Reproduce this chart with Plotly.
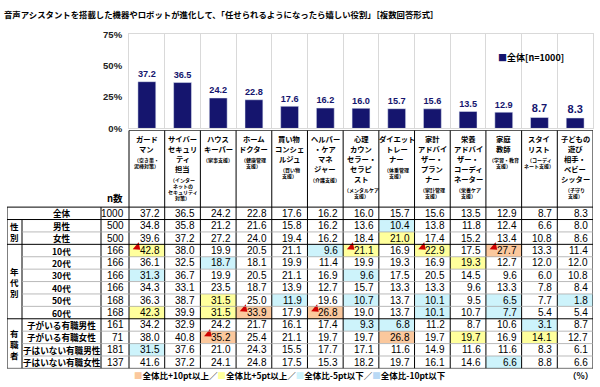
import plotly.graph_objects as go

# ---------------- data ----------------
cat_main = [
    ["ガード", "マン"],
    ["サイバー", "セキュリ", "ティ", "担当"],
    ["ハウス", "キーパー"],
    ["ホーム", "ドクター"],
    ["買い物", "コンシェ", "ルジュ"],
    ["ヘルパー", "・ケア", "マネ", "ジャー"],
    ["心理", "カウン", "セラー・", "セラピ", "スト"],
    ["ダイエット", "トレー", "ナー"],
    ["家計", "アドバイ", "ザー・", "プラン", "ナー"],
    ["栄養", "アドバイ", "ザー・", "コーディ", "ネーター"],
    ["家庭", "教師"],
    ["スタイ", "リスト"],
    ["子どもの", "遊び", "相手・", "ベビー", "シッター"],
]
cat_sub = [
    ["（空き巣・", "泥棒対策）"],
    ["（インター", "ネットの", "セキュリティ", "対策）"],
    ["（家事支援）"],
    ["（健康管理", "支援）"],
    ["（買い物", "支援）"],
    ["（介護支援）"],
    ["（メンタルケア", "支援）"],
    ["（体重管理", "支援）"],
    ["（家計管理", "支援）"],
    ["（栄養ケア", "支援）"],
    ["（学習・教育", "支援）"],
    ["（コーディ", "ネート支援）"],
    ["（子守り", "支援）"],
]

series_name = "全体[n=1000]"
overall = [37.2, 36.5, 24.2, 22.8, 17.6, 16.2, 16.0, 15.7, 15.6, 13.5, 12.9, 8.7, 8.3]
y_ticks = [0, 25, 50, 75]
y_tick_text = ["0%", "25%", "50%", "75%"]

row_labels = ["全体", "男性", "女性", "10代", "20代", "30代", "40代", "50代", "60代",
              "子がいる有職男性", "子がいる有職女性", "子はいない有職男性", "子はいない有職女性"]
row_n = [1000, 500, 500, 166, 166, 166, 166, 168, 168, 161, 71, 181, 137]

v_all = [37.2, 36.5, 24.2, 22.8, 17.6, 16.2, 16.0, 15.7, 15.6, 13.5, 12.9, 8.7, 8.3]
v_male = [34.8, 35.8, 21.2, 21.6, 15.8, 16.2, 13.6, 10.4, 13.8, 11.8, 12.4, 6.6, 8.0]
v_female = [39.6, 37.2, 27.2, 24.0, 19.4, 16.2, 18.4, 21.0, 17.4, 15.2, 13.4, 10.8, 8.6]
v_10s = [42.8, 38.0, 19.9, 20.5, 21.1, 9.6, 21.1, 16.9, 22.9, 17.5, 27.7, 13.3, 11.4]
v_20s = [36.1, 32.5, 18.7, 18.1, 19.9, 11.4, 19.9, 19.3, 16.9, 19.3, 12.7, 12.0, 12.0]
v_30s = [31.3, 36.7, 19.9, 20.5, 21.1, 16.9, 9.6, 17.5, 20.5, 14.5, 9.6, 6.0, 10.8]
v_40s = [34.3, 33.1, 23.5, 18.7, 13.9, 12.7, 15.7, 13.3, 13.3, 9.6, 13.3, 7.8, 8.4]
v_50s = [36.3, 38.7, 31.5, 25.0, 11.9, 19.6, 10.7, 13.7, 10.1, 9.5, 6.5, 7.7, 1.8]
v_60s = [42.3, 39.9, 31.5, 33.9, 17.9, 26.8, 19.0, 13.7, 10.1, 10.7, 7.7, 5.4, 5.4]
v_kid_m = [34.2, 32.9, 24.2, 21.7, 16.1, 17.4, 9.3, 6.8, 11.2, 8.7, 10.6, 3.1, 8.7]
v_kid_f = [38.0, 40.8, 35.2, 25.4, 21.1, 19.7, 19.7, 26.8, 19.7, 19.7, 16.9, 14.1, 12.7]
v_nokid_m = [31.5, 37.6, 21.0, 24.3, 15.5, 17.7, 17.1, 11.6, 14.9, 11.6, 11.6, 8.3, 6.1]
v_nokid_f = [41.6, 37.2, 24.1, 24.8, 17.5, 15.3, 18.2, 19.7, 16.1, 14.6, 6.6, 8.8, 6.6]
table_rows = [v_all, v_male, v_female, v_10s, v_20s, v_30s, v_40s, v_50s, v_60s,
              v_kid_m, v_kid_f, v_nokid_m, v_nokid_f]

groups = [("性<br>別", 1, 2), ("年<br>代<br>別", 3, 8), ("有<br>職<br>者", 9, 12)]

# cells flagged with the red marker (row index, column index)
flag_cells = [(3, 0), (3, 6), (3, 8), (3, 10), (8, 3), (8, 5), (10, 2)]

legend_items = ["全体比+10pt以上", "全体比+5pt以上", "全体比-5pt以下", "全体比-10pt以下"]

# ---------------- style ----------------
W, H = 600, 387
JP = "Noto Sans CJK JP"
NUM = "Liberation Sans"
NAVY = "#15156e"
C_P10 = "#fbc89d"
C_P5 = "#ffff9c"
C_M5 = "#cdf3fb"
C_M10 = "#b9d9f5"
legend_colors = [C_P10, C_P5, C_M5, C_M10]

# pixel geometry
X_DATA_L, X_DATA_R = 129, 593
X_N_L, X_LBL_L, X_TBL_L = 101, 22, 7
Y_PLOT_T, Y_PLOT_B = 29, 126
Y_HDR_T, Y_ROW_T, Y_TBL_B = 128, 207, 373
col_w = (X_DATA_R - X_DATA_L) / 13
row_h = (Y_TBL_B - Y_ROW_T) / 13


def px2x(px):
    return (px - X_DATA_L) / col_w - 0.5


def py2y(py):
    return (py - Y_ROW_T) / row_h - 0.5


x_tbl_l = px2x(X_TBL_L)
x_lbl_l = px2x(X_LBL_L)
x_n_l = px2x(X_N_L)
y_hdr = py2y(Y_HDR_T)

# colour category of each cell vs overall
z = []
for r in table_rows:
    zr = []
    for v, base in zip(r, overall):
        d = round(v - base, 1)
        if d >= 10:
            zr.append(4)
        elif d >= 5:
            zr.append(3)
        elif d <= -10:
            zr.append(2)
        elif d <= -5:
            zr.append(1)
        else:
            zr.append(0)
    z.append(zr)

cscale = [[0, "#ffffff"], [0.2, "#ffffff"], [0.2, C_M5], [0.4, C_M5], [0.4, C_M10], [0.6, C_M10],
          [0.6, C_P5], [0.8, C_P5], [0.8, C_P10], [1.0, C_P10]]

fig = go.Figure()

fig.add_trace(go.Bar(
    x=list(range(13)), y=overall, marker_color=NAVY, width=0.5,
    text=[f"{v:.1f}" for v in overall], textposition="outside",
    textfont=dict(family=NUM, size=11, color=NAVY, weight="bold"),
    cliponaxis=False, name=series_name, hoverinfo="skip", showlegend=False,
    xaxis="x", yaxis="y"))

fig.add_trace(go.Heatmap(
    x=list(range(13)), y=list(range(13)), z=z, colorscale=cscale, zmin=-0.5, zmax=4.5,
    showscale=False, hoverinfo="skip", xaxis="x2", yaxis="y2", showlegend=False))

fig.add_trace(go.Scatter(
    x=[c - 0.27 for r, c in flag_cells], y=[r - 0.28 for r, c in flag_cells],
    mode="markers", marker=dict(symbol="triangle-right", size=8, color="#d00000", angle=40),
    hoverinfo="skip", showlegend=False, xaxis="x2", yaxis="y2", cliponaxis=False))

# ---------------- table lines ----------------
shapes = []


def line(x0, y0, x1, y1, color="#000000", w=1):
    shapes.append(dict(type="line", xref="x2", yref="y2", x0=x0, y0=y0, x1=x1, y1=y1,
                       line=dict(color=color, width=w)))


for j in range(14):
    line(j - 0.5, y_hdr, j - 0.5, 12.5)
line(x_n_l, -0.5, x_n_l, 12.5)
line(x_lbl_l, 0.5, x_lbl_l, 12.5)
line(x_tbl_l, -0.5, x_tbl_l, 12.5)
line(-0.5, y_hdr, 12.5, y_hdr)
for yy in [1.5, 3.5, 4.5, 5.5, 6.5, 7.5, 9.5, 10.5, 11.5]:
    line(x_lbl_l, yy, 12.5, yy, color="#a8a8a8", w=0.8)
for yy in [-0.5, 0.5, 2.5, 8.5, 12.5]:
    line(x_tbl_l, yy, 12.5, yy)

# ---------------- annotations ----------------
ann = []
for i, r in enumerate(table_rows):
    for j, v in enumerate(r):
        ann.append(dict(x=j + 0.5, y=i, xref="x2", yref="y2", text=f"{v:.1f}", showarrow=False,
                        xanchor="right", yanchor="middle", xshift=-3,
                        font=dict(family=NUM, size=10, color="#000")))
    ann.append(dict(x=-0.5, y=i, xref="x2", yref="y2", text=str(row_n[i]), showarrow=False,
                    xanchor="right", yanchor="middle", xshift=-3,
                    font=dict(family=NUM, size=10, color="#000")))
    ann.append(dict(x=(x_lbl_l + x_n_l) / 2, y=i, xref="x2", yref="y2", text=row_labels[i],
                    showarrow=False, xanchor="center", yanchor="middle",
                    font=dict(family=JP, size=8.6, color="#000", weight="bold")))

for g, a, b in groups:
    ann.append(dict(x=(x_tbl_l + x_lbl_l) / 2, y=(a + b) / 2, xref="x2", yref="y2", text=g,
                    showarrow=False, xanchor="center", yanchor="middle",
                    font=dict(family=JP, size=8.5, color="#000", weight="bold")))

ann.append(dict(x=(x_n_l - 0.5) / 2, y=-0.5, xref="x2", yref="y2", text="n数", showarrow=False,
                xanchor="center", yanchor="bottom",
                font=dict(family=JP, size=9.5, color="#000", weight="bold")))

for j in range(13):
    n_main = len(cat_main[j])
    for k, t in enumerate(cat_main[j]):
        ann.append(dict(x=j, y=y_hdr, xref="x2", yref="y2", text=t, showarrow=False,
                        xanchor="center", yanchor="middle", yshift=-(9 + 10 * k),
                        font=dict(family=JP, size=7.3, color="#000", weight="bold")))
    for m, t in enumerate(cat_sub[j]):
        ann.append(dict(x=j, y=y_hdr, xref="x2", yref="y2", text=t, showarrow=False,
                        xanchor="center", yanchor="middle", yshift=-(9 + 10 * n_main + 1 + 6 * m),
                        font=dict(family=JP, size=5, color="#000", weight="bold")))

ann.append(dict(x=2 / W, y=1 - 8 / H, xref="paper", yref="paper",
                text="音声アシスタントを搭載した機器やロボットが進化して、「任せられるようになったら嬉しい役割」［複数回答形式］",
                showarrow=False, xanchor="left", yanchor="middle",
                font=dict(family=JP, size=8.4, color="#000", weight="bold")))

# series legend
ann.append(dict(x=496 / W, y=1 - 53 / H, xref="paper", yref="paper",
                text=f"<span style='color:{NAVY}'>■</span>{series_name}",
                showarrow=False, xanchor="left", yanchor="middle",
                font=dict(family=JP, size=9, color="#000", weight="bold")))

leg_txt = "／".join(f"<span style='color:{c}'>■</span>{t}" for c, t in zip(legend_colors, legend_items))
ann.append(dict(x=132 / W, y=1 - 380 / H, xref="paper", yref="paper", text=leg_txt,
                showarrow=False, xanchor="left", yanchor="middle",
                font=dict(family=JP, size=8.5, color="#000", weight="bold")))
ann.append(dict(x=595 / W, y=1 - 380 / H, xref="paper", yref="paper", text="（%）",
                showarrow=False, xanchor="right", yanchor="middle",
                font=dict(family=JP, size=8.5, color="#000", weight="bold")))

GRID = "#d9d9d9"
fig.update_layout(
    width=W, height=H, margin=dict(l=0, r=0, t=0, b=0),
    paper_bgcolor="white", plot_bgcolor="rgba(0,0,0,0)",
    font=dict(family=JP, color="#000"),
    showlegend=False,
    xaxis=dict(domain=[X_DATA_L / W, X_DATA_R / W], range=[-0.5, 12.5], tickmode="linear",
               tick0=-0.5, dtick=1, showgrid=True, gridcolor=GRID, showticklabels=False,
               zeroline=False, showline=True, mirror=True, linecolor=GRID, fixedrange=True),
    yaxis=dict(domain=[1 - Y_PLOT_B / H, 1 - Y_PLOT_T / H], range=[0, 75],
               tickmode="array", tickvals=y_ticks, ticktext=y_tick_text,
               showgrid=False, zeroline=False, showline=True, mirror=True,
               linecolor=GRID, tickfont=dict(family=NUM, size=9.5, color="#222", weight="bold"),
               ticklabelstandoff=4, fixedrange=True),
    xaxis2=dict(domain=[X_TBL_L / W, X_DATA_R / W], range=[x_tbl_l, 12.5], visible=False,
                fixedrange=True),
    yaxis2=dict(domain=[1 - Y_TBL_B / H, 1 - Y_HDR_T / H], range=[12.5, y_hdr], visible=False,
                fixedrange=True),
    shapes=shapes, annotations=ann,
)

fig.write_html("out.html", config={"displayModeBar": False},
               post_script="document.body.style.margin='0';document.body.style.overflow='hidden';")
